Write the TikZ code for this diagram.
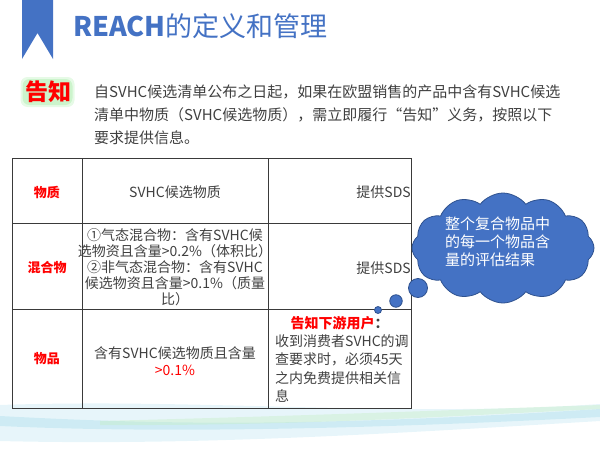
\documentclass[tikz,border=0pt]{standalone}
\usepackage{fontspec}
\setmainfont{Noto Sans CJK SC}
\usetikzlibrary{positioning,shapes.symbols}
\definecolor{reachblue}{HTML}{4472C4}
\definecolor{cloudedge}{HTML}{2F528F}
\definecolor{textgray}{HTML}{404040}
\definecolor{linegray}{HTML}{3A3A3A}
\definecolor{wavecyan}{HTML}{9FD8EA}
\definecolor{wavegreen}{HTML}{C4EEC4}
\definecolor{glowgreen}{HTML}{9BEA9B}
\tikzset{>=latex}

\begin{document}
\begin{tikzpicture}[x=1pt,y=-1pt,every node/.style={inner sep=0pt},
	cell/.style={text=textgray,font=\fontsize{14}{16}\selectfont},
	rowhead/.style={text=red,font=\fontsize{13}{16}\selectfont\bfseries},
	tableline/.style={draw=linegray,line width=0.9pt},
	glow/.style={fill=glowgreen,rounded corners=7pt},
	bubble/.style={circle,fill=reachblue,draw=cloudedge,line width=0.8pt}]
		\useasboundingbox (0,0) rectangle (600,450);
		% waves at the bottom
		\fill[wavecyan,opacity=.25] (0,405) .. controls (200,398) and (400,418) .. (600,404) -- (600,421) .. controls (400,433) and (200,446) .. (0,441) -- cycle;
		\fill[wavecyan,opacity=.35] (0,416) .. controls (150,424) and (300,428) .. (600,409) -- (600,417) .. controls (350,430) and (150,433) .. (0,426) -- cycle;
		\fill[wavegreen,opacity=.4] (100,421) .. controls (300,416) and (450,410) .. (600,405) -- (600,409) .. controls (450,416) and (300,426) .. (100,425) -- cycle;
		% title
		\fill[reachblue] (22,0) -- (53,0) -- (53,59) -- (37.5,33) -- (22,59) -- cycle;
		\node[anchor=base west,text=reachblue,font=\fontsize{27}{32}\selectfont] at (73,36) (title) {\textbf{REACH}的定义和管理};
		% notice label with glow
		\node[glow,opacity=.25,minimum width=54pt,minimum height=30pt] at (47.5,92) (glowouter) {};
		\node[glow,opacity=.35,minimum width=50pt,minimum height=26pt] at (47.5,92) (glowinner) {};
		\node[anchor=west,text=red,font=\fontsize{23}{26}\selectfont\bfseries] at (25,92) (notice) {告知};
		\node[anchor=west,align=left,text=textgray,font=\fontsize{15}{23}\selectfont] at (94,115) (intro) {自SVHC候选清单公布之日起，如果在欧盟销售的产品中含有SVHC候选\\清单中物质（SVHC候选物质），需立即履行“告知”义务，按照以下\\要求提供信息。};
		% table
		\draw[tableline] (12,158) rectangle (411,408);
		\foreach \y in {223,309}
			\draw[tableline] (12,\y) -- (411,\y);
		\foreach \x in {82,268}
			\draw[tableline] (\x,158) -- (\x,408);
		\node[rowhead] at (47,192) (substance) {物质};
		\node[rowhead] at (47,268) (mixture) {混合物};
		\node[rowhead] at (47,359) (article) {物品};
		\node[cell] at (175,192) (substancerule) {SVHC候选物质};
		\node[cell,align=center] at (175,267) (mixturerule) {①气态混合物：含有SVHC候\\选物资且含量>0.2\%（体积比）\\②非气态混合物：含有SVHC\\候选物资且含量>0.1\%（质量\\比）};
		\node[cell,align=center,font=\fontsize{14}{17}\selectfont] at (175,361) (articlerule) {含有SVHC候选物质且含量\\\textcolor{red}{>0.1\%}};
		\node[cell,anchor=east] at (411,192) (substancesds) {提供SDS};
		\node[cell,anchor=east] at (411,268) (mixturesds) {提供SDS};
		\node[cell] at (339.5,323) (downstream) {\textcolor{red}{\textbf{告知下游用户}}\textbf{：}};
		\node[cell,anchor=west,align=left,font=\fontsize{14}{18.5}\selectfont] at (275,368.5) (articleinfo) {收到消费者SVHC的调\\查要求时，必须45天\\之内免费提供相关信\\息};
		% thought cloud
		\node[cloud,cloud puffs=12,cloud puff arc=105,aspect=1.7,minimum width=182pt,minimum height=110pt,fill=reachblue,draw=cloudedge,line width=0.8pt] at (503,248) (thought) {};
		\node[bubble,minimum size=19pt] at (418,288) (puffa) {};
		\node[bubble,minimum size=12.5pt] at (396,301) (puffb) {};
		\node[bubble,minimum size=7pt] at (378,310) (puffc) {};
		\node[anchor=west,align=left,text=white,font=\fontsize{15}{18}\selectfont] at (445,242) (thoughttext) {整个复合物品中\\的每一个物品含\\量的评估结果};
\end{tikzpicture}
\end{document}
